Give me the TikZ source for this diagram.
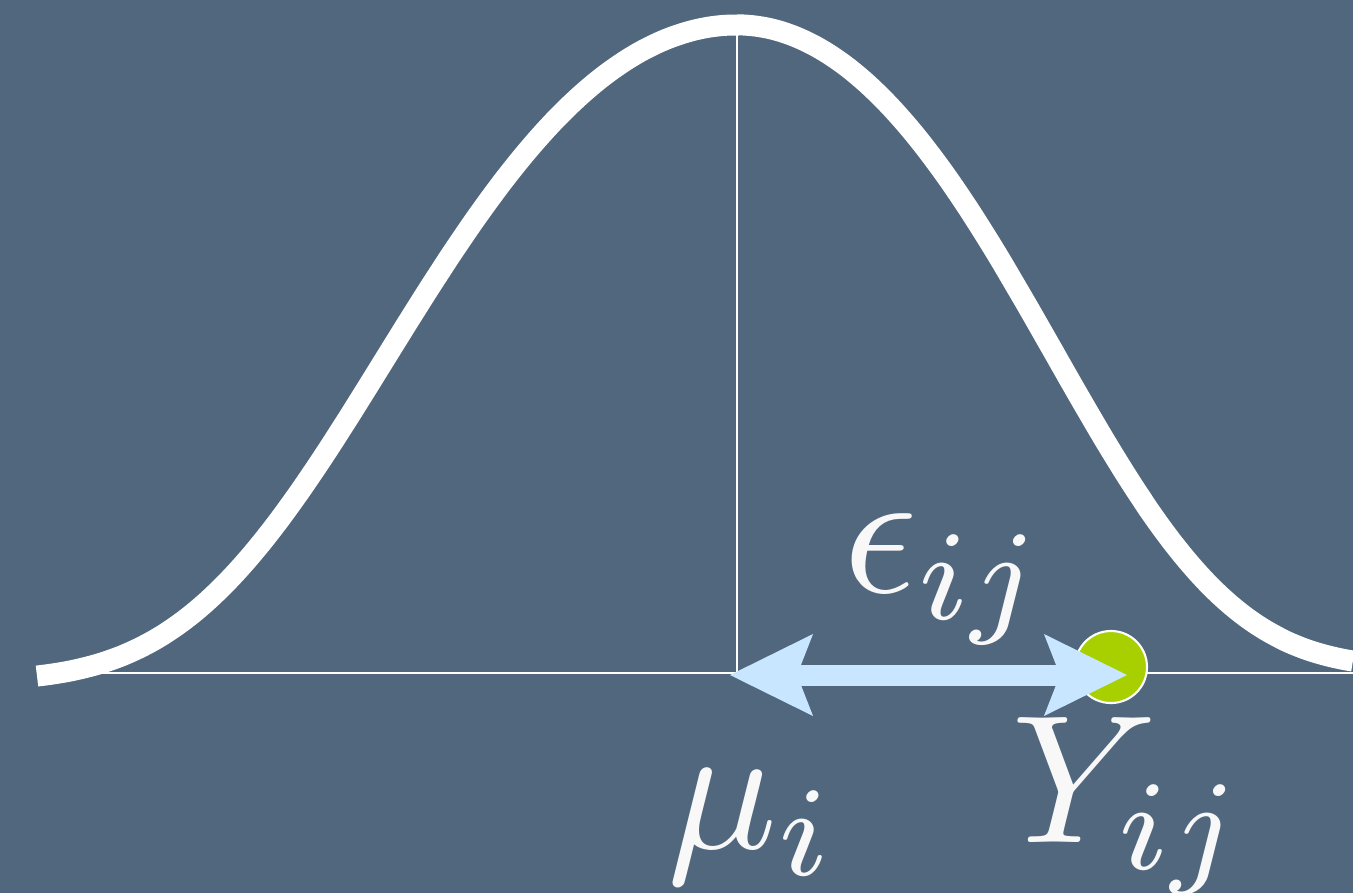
\documentclass[tikz,border=0pt]{standalone}
\usepackage{amsmath}
\usepackage{tikz}
\usetikzlibrary{arrows.meta}
\definecolor{bgColor}{HTML}{50677E}
\definecolor{arrowColor}{HTML}{C8E6FF}
\definecolor{pointColor}{HTML}{A8D000}
\definecolor{textColor}{HTML}{F8F8F8}

\begin{document}
\begin{tikzpicture}[x=0.01cm, y=-0.01cm,
    bigmath/.style={text=textColor, inner sep=0pt, anchor=base west, scale=5.2}]
    \fill[bgColor] (0,0) rectangle (1353,893);
    \useasboundingbox (0,0) rectangle (1353,893);
    % axis and mean line
    \draw[white, line width=0.6pt] (37,673) -- (1353,673);
    \draw[white, line width=0.6pt] (737,673) -- (737,30);
    % density curve, a bit wider on the left
    \draw[white, line width=0.21cm]
        plot[domain=-7:0, samples=100, smooth]
            ({737+100*\x}, {676-651*(exp(-\x*\x*(0.0436+0.00111*\x*\x))-0.0082)/0.9918})
        -- plot[domain=0:6.844, samples=100, smooth]
            ({737+90*\x}, {676-651*(exp(-\x*\x*(0.0436+0.00111*\x*\x))+0.012)/1.012});
    % observation and error
    \node[circle, fill=pointColor, draw=white, line width=0.6pt,
        minimum size=0.72cm, inner sep=0pt] (obs) at (1111,667) {};
    \coordinate (mu) at (730,675);
    \coordinate (tip) at (1127,675);
    \draw[arrowColor, line width=0.21cm,
        {Stealth[length=0.83cm, width=0.82cm, inset=0.16cm, line width=0pt]}-{Stealth[length=0.83cm, width=0.82cm, inset=0.16cm, line width=0pt]}]
        (mu) -- (tip);
    \node[bigmath] (eps) at (840,592) {$\epsilon_{ij}$};
    \node[bigmath] (mulab) at (664,848) {$\mu_i$};
    \node[bigmath] (ylab) at (1008,842) {$Y_{ij}$};
\end{tikzpicture}
\end{document}
